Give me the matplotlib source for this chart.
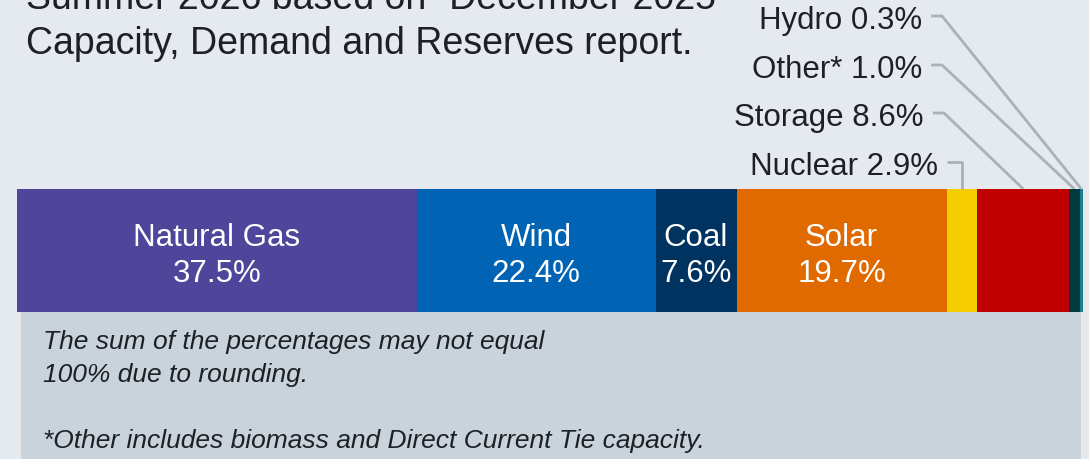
import matplotlib
matplotlib.use("Agg")
import matplotlib.pyplot as plt
from matplotlib.patches import Rectangle

plt.rcParams['font.family'] = ['Liberation Sans', 'DejaVu Sans']

# ---- data ----
categories = ["Natural Gas", "Wind", "Coal", "Solar", "Nuclear", "Storage", "Other*", "Hydro"]
shares = [37.5, 22.4, 7.6, 19.7, 2.9, 8.6, 1.0, 0.3]
colors = ["#4f469b", "#0063b3", "#00335f", "#e06900", "#f5cd00", "#c00000", "#00393f", "#1f7f8b"]
inside = ["Natural Gas", "Wind", "Coal", "Solar"]
outside = ["Hydro", "Other*", "Storage", "Nuclear"]

title_lines = ["Summer 2026 based on \u201cDecember 2025",
               "Capacity, Demand and Reserves report."]
foot_lines = ["The sum of the percentages may not equal",
              "100% due to rounding.",
              "",
              "*Other includes biomass and Direct Current Tie capacity."]

W, H = 1089, 460
BG = "#e5eaef"
PANEL = "#c9d3dc"
TXT = "#1d2024"
LEAD = "#a9b1b9"

fig = plt.figure(figsize=(W / 100, H / 100), dpi=100, facecolor=BG)

# background axes in pixel coordinates (y downward)
bg = fig.add_axes([0, 0, 1, 1])
bg.set_xlim(0, W)
bg.set_ylim(H, 0)
bg.axis("off")
bg.add_patch(Rectangle((21, 313), 1081 - 21, H - 313, facecolor=PANEL, edgecolor="none"))

# title
for i, line in enumerate(title_lines):
    bg.text(26, 9 + i * 44.5, line, fontsize=27, color=TXT, ha="left", va="baseline")

# footnotes
for i, line in enumerate(foot_lines):
    if line:
        bg.text(43, 349 + i * 33, line, fontsize=19, style="italic", color=TXT,
                ha="left", va="baseline")

# bar axes
bx0, bx1, by0, by1 = 17, 1083, 190, 313
ax = fig.add_axes([bx0 / W, 1 - by1 / H, (bx1 - bx0) / W, (by1 - by0) / H])
ax.set_xlim(0, sum(shares))
ax.set_ylim(-0.5, 0.5)
ax.axis("off")

lefts = []
acc = 0.0
for v in shares:
    lefts.append(acc)
    acc += v
ax.barh([0] * len(shares), shares, left=lefts, height=1.0, color=colors, edgecolor="none")

def py_to_ax(py):
    return 0.5 - (py - by0) / (by1 - by0)

for cat, v, l in zip(categories, shares, lefts):
    if cat in inside:
        cx = l + v / 2
        ax.text(cx, py_to_ax(246), cat, fontsize=22.5, color="white", ha="center", va="baseline")
        ax.text(cx, py_to_ax(282), f"{v:.1f}%", fontsize=22.5, color="white", ha="center", va="baseline")

# outside labels with leader lines
lab_right = {"Hydro": 922, "Other*": 922, "Storage": 924, "Nuclear": 938}
lab_base = {"Hydro": 29, "Other*": 78, "Storage": 126, "Nuclear": 175}
fig.canvas.draw()
for cat in outside:
    i = categories.index(cat)
    v, l = shares[i], lefts[i]
    bg.text(lab_right[cat], lab_base[cat], f"{cat} {v:.1f}%", fontsize=22.5, color=TXT,
            ha="right", va="baseline")
    # segment top centre converted to pixel coordinates
    dx, dy = ax.transData.transform((l + v / 2, 0.5))
    px, py = bg.transData.inverted().transform((dx, dy))
    ly = lab_base[cat] - 12
    sx0 = lab_right[cat] + 9
    sx1 = sx0 + 11
    if cat == "Nuclear":
        bg.plot([sx0, px, px], [ly, ly, py], color=LEAD, lw=2, solid_capstyle="butt")
    else:
        bg.plot([sx0, sx1, px], [ly, ly, py], color=LEAD, lw=2, solid_capstyle="butt")

fig.savefig("out.png", dpi=100, facecolor=BG)
